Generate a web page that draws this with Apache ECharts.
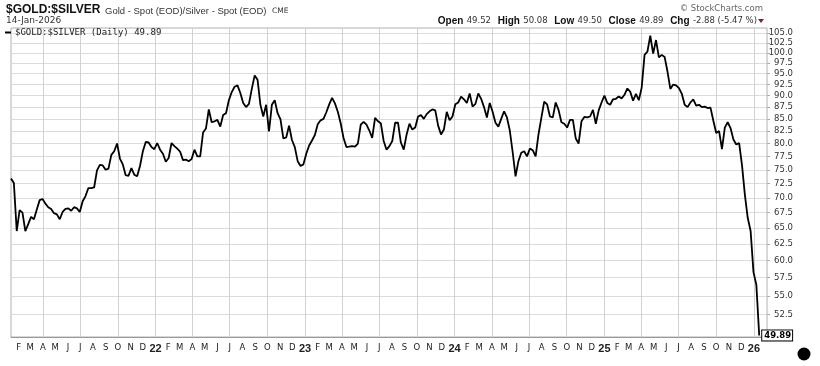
<!DOCTYPE html>
<html>
<head>
<meta charset="utf-8">
<script src="https://cdn.jsdelivr.net/npm/echarts@6/dist/echarts.min.js"></script>
<style>
  html, body { margin: 0; padding: 0; background: #fff; }
  #chart { width: 820px; height: 366px; }
</style>
</head>
<body>
<div id="chart"></div>
<script>
// gold / silver ratio, one close per week starting Wed 13-Jan-2021
const startDay = [2021, 0, 13]
const ratio = [
  73.4, 72.6, 64.5, 67.9, 67.5, 64.5, 65.6, 66.8, 66.4, 68.0,
  69.6, 69.8, 69.0, 68.4, 68.1, 67.4, 67.2, 66.4, 67.6, 68.1,
  68.2, 67.8, 68.4, 68.2, 67.6, 69.4, 70.3, 71.7, 71.7, 71.8,
  74.9, 75.9, 75.8, 75.0, 75.2, 77.8, 78.5, 80.0, 77.1, 76.0,
  74.0, 73.9, 75.3, 74.1, 73.8, 75.7, 78.5, 80.3, 80.2, 79.3,
  78.9, 80.1, 78.8, 78.0, 76.5, 77.2, 80.1, 79.5, 79.0, 78.4,
  76.8, 76.9, 76.6, 77.0, 78.8, 77.5, 77.5, 82.2, 83.0, 87.0,
  84.3, 84.5, 84.8, 83.4, 85.8, 86.2, 89.0, 90.8, 92.0, 92.3,
  90.6, 88.4, 87.5, 88.2, 91.5, 94.6, 93.6, 88.0, 85.5, 88.0,
  82.4, 88.0, 89.0, 86.2, 84.9, 81.0, 81.2, 83.6, 80.7, 79.3,
  76.6, 75.7, 76.0, 78.0, 79.6, 80.6, 81.7, 83.9, 84.7, 85.0,
  86.4, 88.1, 89.5, 88.3, 86.5, 84.1, 81.1, 79.3, 79.4, 79.5,
  79.4, 80.0, 83.8, 84.4, 83.8, 82.6, 81.1, 85.2, 84.5, 84.1,
  80.5, 78.8, 79.5, 80.5, 84.2, 84.2, 80.2, 78.8, 81.8, 84.0,
  82.8, 83.2, 85.5, 85.8, 85.0, 86.0, 86.6, 87.0, 86.8, 83.6,
  81.8, 82.8, 86.5, 84.7, 85.5, 88.1, 88.5, 89.8, 89.2, 88.4,
  90.5, 87.6, 88.2, 90.5, 89.3, 87.5, 85.3, 88.4, 86.5, 84.2,
  83.4, 85.0, 86.6, 85.3, 82.6, 78.3, 73.8, 76.6, 78.2, 78.5,
  77.5, 79.0, 78.7, 77.5, 81.8, 85.2, 88.7, 88.1, 85.5, 85.3,
  88.5, 86.9, 84.3, 84.0, 83.2, 84.8, 84.8, 81.0, 80.0, 84.5,
  85.4, 85.3, 85.5, 86.9, 84.0, 86.8, 88.5, 90.0, 88.4, 88.0,
  89.2, 89.3, 89.8, 89.4, 90.2, 91.6, 90.9, 88.9, 90.4, 89.0,
  91.8, 99.5, 100.3, 104.3, 99.8, 103.2, 98.9, 99.5, 99.0, 95.5,
  91.5, 92.5, 92.3, 91.7, 90.4, 88.0, 87.5, 88.5, 89.2, 87.8,
  88.0, 87.5, 87.6, 87.3, 87.4, 84.6, 82.1, 82.5, 78.9, 83.2,
  84.3, 83.1, 80.8, 79.8, 80.1, 75.8, 70.5, 66.6, 64.5, 58.3,
  56.5, 49.89
]
const yTicks = [52.5, 55, 57.5, 60, 62.5, 65, 67.5, 70, 72.5, 75, 77.5, 80, 82.5,
  85, 87.5, 90, 92.5, 95, 97.5, 100, 102.5, 105]
const monthLetters = ['J', 'F', 'M', 'A', 'M', 'J', 'J', 'A', 'S', 'O', 'N', 'D']
const quote = { open: 49.52, high: 50.08, low: 49.50, close: 49.89, chg: -2.88, pct: -5.47 }

const xMin = new Date(2021, 0, 13).getTime()
const xMax = new Date(2026, 1, 2).getTime()
const lastLabel = new Date(2026, 0, 1).getTime()

const dates = ratio.map((v, i) => new Date(startDay[0], startDay[1], startDay[2] + 7 * i).getTime())
const seriesData = ratio.map((v, i) => [dates[i], v])

const monthTicks = []
const quarterTicks = []
for (let y = 2021; y <= 2026; y++) {
  for (let m = 0; m < 12; m++) {
    const t = new Date(y, m, 1).getTime()
    if (t <= xMin || t > lastLabel) continue
    monthTicks.push(t)
    if (m % 3 === 0) quarterTicks.push(t)
  }
}

const chart = echarts.init(document.getElementById('chart'))

chart.setOption({
  animation: false,
  grid: {
    left: 11, right: 53, top: 28, bottom: 29,
    show: true, borderColor: '#b0b0b0', borderWidth: 1
  },
  legend: {
    left: 5, top: 28, padding: 0,
    icon: 'rect', itemWidth: 6, itemHeight: 2, itemGap: 4,
    textStyle: { fontFamily: 'DejaVu Sans Mono', fontSize: 9, color: '#222', padding: [0, 0, 0, -1] },
    formatter: name => name + ' (Daily) ' + quote.close.toFixed(2)
  },
  xAxis: {
    // dates kept as timestamps on a plain value axis
    type: 'value',
    min: xMin,
    max: xMax,
    axisLine: { show: true, lineStyle: { color: '#999' } },
    axisTick: { show: false, customValues: quarterTicks },
    splitLine: { show: true, lineStyle: { color: '#d2d2d2', width: 1 } },
    axisLabel: {
      customValues: monthTicks,
      margin: 6,
      fontFamily: 'DejaVu Sans',
      fontSize: 8.5,
      color: '#222',
      formatter: v => {
        const d = new Date(v)
        if (d.getMonth() === 0) return '{yr|' + String(d.getFullYear()).slice(2) + '}'
        return monthLetters[d.getMonth()]
      },
      rich: { yr: { fontFamily: 'Liberation Sans', fontWeight: 'bold', fontSize: 11, color: '#222' } }
    }
  },
  yAxis: {
    type: 'log',
    position: 'right',
    min: 49.7,
    max: 106.3,
    axisLine: { show: false },
    axisTick: { show: true, length: 3, lineStyle: { color: '#aaa' }, customValues: yTicks },
    splitLine: { show: true, lineStyle: { color: '#dcdcdc', width: 1 } },
    axisLabel: {
      customValues: yTicks,
      align: 'right',
      margin: 26,
      fontFamily: 'DejaVu Sans',
      fontSize: 8.5,
      color: '#333',
      formatter: v => Number(v).toFixed(1)
    }
  },
  series: [{
    name: '$GOLD:$SILVER',
    type: 'line',
    data: seriesData,
    showSymbol: false,
    itemStyle: { color: '#000' },
    lineStyle: { color: '#000', width: 1.8 },
    endLabel: {
      show: true,
      distance: 3,
      formatter: p => p.value[1].toFixed(2),
      fontFamily: 'DejaVu Sans',
      fontSize: 8.5,
      fontWeight: 'bold',
      color: '#000',
      backgroundColor: '#fff',
      borderColor: '#000',
      borderWidth: 1,
      padding: [1, 1, 0, 2]
    }
  }],
  graphic: [
    { type: 'text', x: 6, y: 10, style: { text: '$GOLD:$SILVER', font: 'bold 12px "Liberation Sans"', fill: '#111', verticalAlign: 'middle' } },
    { type: 'text', x: 105, y: 11, style: { text: 'Gold - Spot (EOD)/Silver - Spot (EOD)', font: '9.5px "Liberation Sans"', fill: '#333', verticalAlign: 'middle' } },
    { type: 'text', x: 272, y: 11.5, style: { text: 'CME', font: '7.5px "DejaVu Sans"', fill: '#333', verticalAlign: 'middle' } },
    { type: 'text', x: 6, y: 21, style: { text: '14-Jan-2026', font: '9px "DejaVu Sans"', fill: '#333', verticalAlign: 'middle' } },
    { type: 'text', x: 763, y: 9, style: { text: '\u00a9 StockCharts.com', font: '8.5px "DejaVu Sans"', fill: '#666', align: 'right', verticalAlign: 'middle' } },
    {
      type: 'text', x: 757, y: 21,
      style: {
        text: '{b|Open} {v|' + quote.open.toFixed(2) + '}  {b|High} {v|' + quote.high.toFixed(2) +
          '}  {b|Low} {v|' + quote.low.toFixed(2) + '}  {b|Close} {v|' + quote.close.toFixed(2) +
          '}  {b|Chg} {v|' + quote.chg.toFixed(2) + ' (' + quote.pct.toFixed(2) + ' %)}',
        align: 'right', verticalAlign: 'middle',
        rich: {
          b: { font: 'bold 10px "Liberation Sans"', fill: '#111' },
          v: { font: '8.5px "DejaVu Sans"', fill: '#333' }
        }
      }
    },
    { type: 'polygon', shape: { points: [[758, 19], [764, 19], [761, 23]] }, style: { fill: '#8b1a3c' } },
    { type: 'circle', shape: { cx: 804, cy: 354, r: 6.5 }, style: { fill: '#000' } }
  ]
})
</script>
</body>
</html>
